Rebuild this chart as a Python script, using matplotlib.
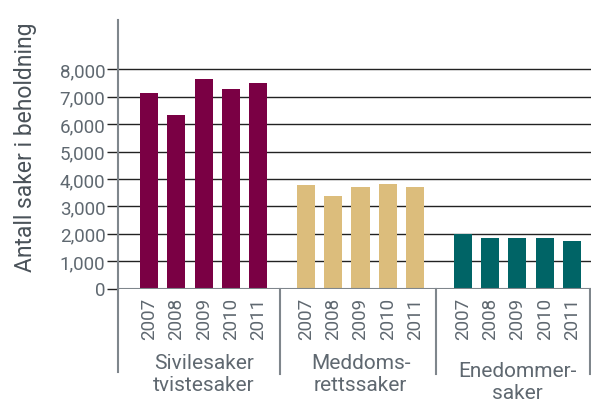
import matplotlib
matplotlib.use("Agg")
import matplotlib.pyplot as plt
from matplotlib.transforms import blended_transform_factory

years = ["2007", "2008", "2009", "2010", "2011"]
groups = ["Sivilesaker\ntvistesaker", "Meddoms-\nrettssaker", "Enedommer-\nsaker"]
sivile = [7130, 6330, 7650, 7280, 7500]
meddoms = [3780, 3380, 3700, 3810, 3700]
enedommer = [1990, 1840, 1840, 1840, 1730]
series = [sivile, meddoms, enedommer]
colors = ["#7a0044", "#dcbd7c", "#006466"]
yticks = [0, 1000, 2000, 3000, 4000, 5000, 6000, 7000, 8000]

plt.rcParams['font.family'] = ['Roboto', 'DejaVu Sans']

fig = plt.figure(figsize=(5.91, 4.06), dpi=100)
ax = fig.add_axes([118/591, 1-289.5/406, 1-118/591, (289.5-21)/406])

gstep = 5.75
xs_all, labels_all = [], []
for g, (vals, c) in enumerate(zip(series, colors)):
    xs = [g*gstep + j for j in range(len(vals))]
    ax.bar(xs, vals, width=0.66, color=c, zorder=3)
    xs_all += xs
    labels_all += years

ax.set_xlim(-1.14, 16.2)
ax.set_ylim(0, 9800)
ax.set_yticks(yticks)
ax.set_yticklabels(["{:,}".format(v) for v in yticks], color="#5f6870", fontsize=13.5)
ax.set_xticks(xs_all)
ax.set_xticklabels(labels_all, rotation=90, color="#5f6870", fontsize=13.5)
ax.tick_params(axis='x', length=0, pad=6)
ax.tick_params(axis='y', length=8, width=1, color="#222222", pad=1)

for v in yticks[1:]:
    ax.axhline(v, color="#222222", lw=1, zorder=1)
ax.axhline(0, color="#7f868c", lw=1.5, zorder=4)

for s in ["top", "right", "bottom"]:
    ax.spines[s].set_visible(False)
ax.spines["left"].set_color("#7f868c")
ax.spines["left"].set_linewidth(1.5)

ax.set_ylabel("Antall saker i beholdning", color="#4a5259", fontsize=16.5)
ax.yaxis.set_label_coords(-0.172, 0.53)

# group separators below the axis
trans = blended_transform_factory(ax.transData, ax.transAxes)
seps = [-1.14, 4.8, 10.5, 16.15]
for i, sx in enumerate(seps):
    bottom = -0.31 if i == 0 else -0.32
    ax.plot([sx, sx], [0, bottom], transform=trans, color="#7f868c", lw=1.5, clip_on=False)

group_centers = [2, 2 + gstep, 2 + 2*gstep]
group_y = [-0.24, -0.24, -0.27]
for gc, gl, gy in zip(group_centers, groups, group_y):
    ax.text(gc, gy, gl, transform=trans, ha="center", va="top", color="#5f6870",
            fontsize=15, linespacing=1.2)

fig.savefig("out.png", dpi=100)
